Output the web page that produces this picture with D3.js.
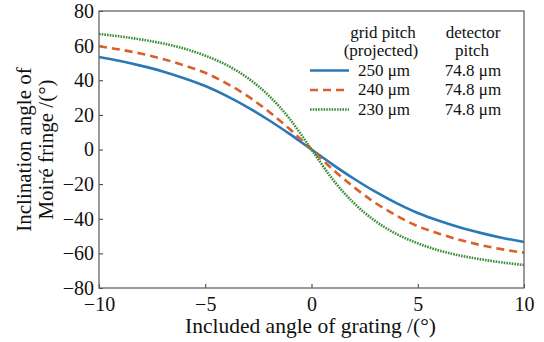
<!DOCTYPE html>
<html>
<head>
<meta charset="utf-8">
<script src="https://cdn.jsdelivr.net/npm/d3@7"></script>
<style>
  body { margin: 0; background: #fff; }
</style>
</head>
<body>
<svg width="544" height="342" font-family="Liberation Serif, serif"></svg>
<script>
const angles = [-10, -9, -8, -7, -6, -5, -4, -3, -2, -1, 0, 1, 2, 3, 4, 5, 6, 7, 8, 9, 10];
const pitch250 = [53.4, 51.1, 48.3, 45.1, 41.2, 36.7, 31.0, 24.4, 16.9, 8.7, 0, -8.7, -16.9, -24.4, -31.0, -36.7, -41.2, -45.1, -48.3, -51.1, -53.4];
const pitch240 = [59.6, 57.7, 55.3, 52.3, 48.6, 44.3, 38.2, 30.8, 21.8, 11.5, 0, -11.5, -21.8, -30.8, -38.2, -44.3, -48.6, -52.3, -55.3, -57.7, -59.6];
const pitch230 = [66.7, 65.3, 63.5, 61.3, 58.3, 54.2, 48.8, 41.3, 31.0, 17.3, 0, -17.3, -31.0, -41.3, -48.8, -54.2, -58.3, -61.3, -63.5, -65.3, -66.7];
const xTicks = [-10, -5, 0, 5, 10];
const yTicks = [-80, -60, -40, -20, 0, 20, 40, 60, 80];
const legendPitch = ['250 μm', '240 μm', '230 μm'];
const legendDetector = ['74.8 μm', '74.8 μm', '74.8 μm'];

const FONT = 'Liberation Serif, serif';

const series = [
  { values: pitch250, color: '#2a78b6', dash: null },
  { values: pitch240, color: '#d9602a', dash: '8,5' },
  { values: pitch230, color: '#3a8c3a', dash: '1.6,1.1' },
];

const svg = d3.select('svg');
const margin = { top: 11, right: 20, bottom: 54, left: 99 };
const width = 544 - margin.left - margin.right;
const height = 342 - margin.top - margin.bottom;
const fmt = (d) => (d < 0 ? '\u2212' + Math.abs(d) : '' + d);

const x = d3.scaleLinear().domain([-10, 10]).range([0, width]);
const y = d3.scaleLinear().domain([-80, 80]).range([height, 0]);

const g = svg.append('g').attr('transform', `translate(${margin.left},${margin.top})`);

// axes, ticks pointing inward
const xAxis = g.append('g')
  .attr('transform', `translate(0,${height})`)
  .call(d3.axisBottom(x).tickValues(xTicks).tickSize(-4).tickPadding(9).tickFormat(fmt));
const yAxis = g.append('g')
  .call(d3.axisLeft(y).tickValues(yTicks).tickSize(-4).tickPadding(5).tickFormat(fmt));
[xAxis, yAxis].forEach((a) => {
  a.attr('font-family', FONT).attr('font-size', 20);
  a.select('.domain').remove();
  a.selectAll('line').attr('stroke', '#333');
  a.selectAll('text').attr('fill', '#111');
});

// lines
const line = d3.line()
  .x((d, i) => x(angles[i]))
  .y((d) => y(d))
  .curve(d3.curveMonotoneX);

series.forEach((s) => {
  g.append('path')
    .datum(s.values)
    .attr('fill', 'none')
    .attr('stroke', s.color)
    .attr('stroke-width', 2.6)
    .attr('stroke-dasharray', s.dash)
    .attr('d', line);
});

// frame
g.append('rect')
  .attr('width', width).attr('height', height)
  .attr('fill', 'none').attr('stroke', '#666').attr('stroke-width', 1.3);

// axis titles
svg.append('text')
  .attr('x', margin.left + width / 2 - 1).attr('y', 333)
  .attr('text-anchor', 'middle').attr('font-size', 21.5).attr('font-family', FONT).attr('fill', '#111')
  .text('Included angle of grating /(°)');
const yt = svg.append('text')
  .attr('transform', `translate(31,${margin.top + height / 2}) rotate(-90)`)
  .attr('text-anchor', 'middle').attr('font-size', 21).attr('font-family', FONT).attr('fill', '#111');
yt.append('tspan').attr('x', 0).attr('y', 0).text('Inclination angle of');
yt.append('tspan').attr('x', 0).attr('y', 22).text('Moiré fringe /(°)');

// legend
const lg = svg.append('g').attr('font-size', 17).attr('font-family', FONT).attr('fill', '#111');
lg.append('text').attr('x', 383).attr('y', 38).attr('text-anchor', 'middle').text('grid pitch');
lg.append('text').attr('x', 381).attr('y', 56).attr('text-anchor', 'middle').text('(projected)');
lg.append('text').attr('x', 473).attr('y', 38).attr('text-anchor', 'middle').text('detector');
lg.append('text').attr('x', 472).attr('y', 56).attr('text-anchor', 'middle').text('pitch');
series.forEach((s, i) => {
  const yy = 70.5 + i * 19.5;
  lg.append('line')
    .attr('x1', 310).attr('x2', 349).attr('y1', yy).attr('y2', yy)
    .attr('stroke', s.color).attr('stroke-width', 2.6)
    .attr('stroke-dasharray', s.dash);
  lg.append('text').attr('x', 358).attr('y', yy + 5).text(legendPitch[i]);
  lg.append('text').attr('x', 473).attr('y', yy + 5).attr('text-anchor', 'middle').text(legendDetector[i]);
});
</script>
</body>
</html>
